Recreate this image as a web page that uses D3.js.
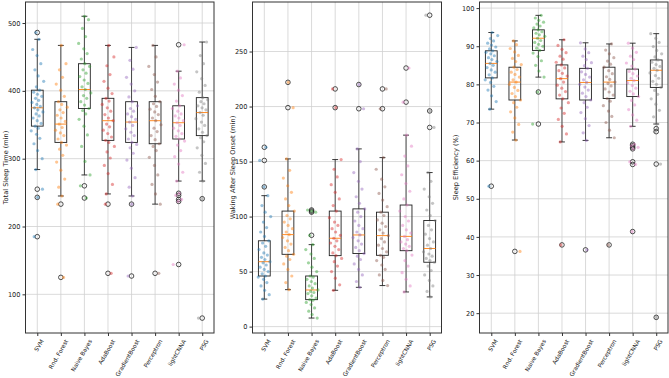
<!DOCTYPE html>
<html>
<head>
<meta charset="utf-8">
<script src="https://cdn.jsdelivr.net/npm/d3@7"></script>
<style>
body { margin: 0; background: #fff; }
text { font-family: "DejaVu Sans", sans-serif; }
</style>
</head>
<body>
<svg id="svg1" width="669" height="378"></svg>
<script>
var categories = ["SVM", "Rnd. Forest", "Naive Bayes", "AdaBoost", "GradientBoost", "Perceptron", "lightCNNA", "PSG"]
var colors = ["#1f77b4","#ff7f0e","#2ca02c","#d62728","#9467bd","#8c564b","#e377c2","#7f7f7f"]

// Total Sleep Time (min)
var tstLo  = [284, 245, 276, 248, 245, 233, 267, 267]
var tstQ1  = [348, 324, 374, 327, 324, 322, 329, 334]
var tstMed = [375, 351, 402, 356, 354, 356, 353, 368]
var tstQ3  = [401, 384, 440, 389, 384, 384, 378, 390]
var tstHi  = [476, 467, 510, 467, 464, 467, 429, 472]
var tstOut = [[486, 255, 243, 185], [233, 125], [260, 242], [233, 131], [233, 127], [131], [468, 249, 246, 240, 237, 144], [241, 65]]
var tstPoints = [
  [284, 300, 312, 322, 330, 336, 341, 345, 348, 352, 356, 360, 363, 366, 369, 372, 375, 377, 380, 383, 386, 389, 392, 395, 398, 401, 406, 414, 422, 431, 440, 452, 461, 476, 486, 255, 243, 185],
  [245, 258, 270, 283, 295, 305, 314, 320, 324, 329, 334, 338, 342, 346, 351, 355, 360, 364, 368, 372, 376, 380, 384, 392, 401, 410, 420, 431, 440, 467, 233, 125],
  [276, 296, 318, 335, 348, 358, 366, 371, 374, 379, 384, 389, 393, 397, 402, 406, 411, 416, 421, 426, 431, 436, 440, 447, 455, 462, 470, 480, 492, 505, 510, 260, 242],
  [248, 262, 278, 290, 301, 310, 318, 324, 327, 332, 337, 342, 347, 351, 356, 360, 365, 370, 375, 380, 385, 389, 396, 404, 414, 424, 437, 450, 467, 233, 131],
  [245, 258, 272, 286, 298, 308, 316, 321, 324, 329, 334, 339, 344, 349, 354, 358, 362, 366, 370, 374, 378, 384, 391, 400, 410, 420, 432, 445, 464, 233, 127],
  [233, 248, 262, 276, 290, 302, 312, 318, 322, 328, 334, 340, 345, 350, 356, 360, 365, 369, 373, 377, 381, 384, 392, 402, 413, 424, 436, 450, 467, 131],
  [267, 280, 292, 303, 312, 320, 326, 329, 333, 337, 341, 345, 349, 353, 356, 360, 363, 366, 370, 374, 378, 385, 393, 401, 410, 419, 429, 468, 249, 246, 240, 237, 144],
  [267, 280, 293, 305, 316, 325, 331, 334, 339, 344, 349, 354, 359, 364, 368, 372, 375, 378, 381, 384, 387, 390, 398, 408, 418, 428, 440, 452, 472, 241, 65]
]
var tstTicks = [100, 200, 300, 400, 500]

// Waking After Sleep Onset (min)
var wasoLo  = [25, 33.6, 7.8, 33, 35.7, 37.3, 31.5, 27]
var wasoQ1  = [46, 65.7, 24.5, 64.5, 66.4, 64.8, 69, 58.5]
var wasoMed = [59, 83.6, 33.3, 80.3, 83.3, 82.7, 82, 71]
var wasoQ3  = [78, 105, 46, 105, 107, 104, 110.5, 96.4]
var wasoHi  = [119, 152.4, 74.5, 151.8, 161.5, 153.6, 174, 140]
var wasoOut = [[163, 151, 127], [222, 199], [106, 105, 104, 83], [216, 199], [220, 198], [216, 198], [235, 204], [283, 196, 181]]
var wasoPoints = [
  [25, 29, 33, 37, 40, 43, 45, 46, 48, 50, 52, 54, 56, 58, 59, 61, 63, 65, 67, 70, 73, 76, 78, 82, 86, 90, 95, 100, 104, 110, 119, 127, 151, 163],
  [33.6, 40, 46, 52, 57, 61, 64, 65.7, 69, 72, 75, 78, 81, 83.6, 86, 89, 92, 95, 98, 101, 105, 110, 116, 122, 128, 135, 142, 152.4, 199, 222],
  [7.8, 11, 14, 17, 20, 22, 24, 24.5, 26, 28, 30, 31, 32, 33.3, 35, 37, 39, 41, 43, 45, 46, 50, 54, 58, 62, 66, 70, 74.5, 83, 104, 105, 106],
  [33, 38, 44, 50, 55, 59, 62, 64.5, 67, 70, 73, 76, 78, 80.3, 83, 86, 89, 92, 95, 99, 105, 110, 116, 122, 129, 136, 143, 151.8, 199, 216],
  [35.7, 41, 47, 52, 57, 61, 64, 66.4, 69, 72, 75, 78, 81, 83.3, 86, 89, 92, 96, 100, 104, 107, 112, 118, 125, 132, 140, 150, 161.5, 198, 220],
  [37.3, 42, 47, 52, 56, 60, 63, 64.8, 68, 71, 74, 77, 80, 82.7, 85, 88, 91, 94, 97, 101, 104, 109, 115, 121, 127, 134, 143, 153.6, 198, 216],
  [31.5, 37, 43, 49, 55, 60, 65, 69, 71, 73, 75, 77, 79, 82, 85, 88, 92, 96, 100, 105, 110.5, 116, 123, 130, 138, 146, 155, 164, 174, 204, 235],
  [27, 32, 37, 42, 47, 51, 55, 58.5, 60, 62, 64, 66, 68, 71, 74, 77, 80, 84, 88, 92, 96.4, 101, 106, 112, 118, 125, 132, 140, 181, 196, 283]
]
var wasoTicks = [0, 50, 100, 150, 200, 250]

// Sleep Efficiency (%)
var seLo  = [73.5, 65.4, 81.9, 64.9, 65.3, 66, 69.0, 69.6]
var seQ1  = [81.7, 75.9, 88.9, 76.2, 75.9, 76.3, 76.8, 79.2]
var seMed = [85.5, 80.6, 92.1, 81.5, 80.5, 80.6, 81.0, 83.7]
var seQ3  = [88.8, 84.5, 94.3, 85.1, 84.2, 84.5, 84.0, 86.4]
var seHi  = [93.6, 91.4, 98.1, 91.7, 90.9, 90.6, 90.8, 93.3]
var seOut = [[53.3], [36.2], [78.0, 69.6], [37.9], [36.6], [37.9], [64.3, 63.9, 63.5, 63.1, 59.7, 59.0, 41.4], [68.4, 67.6, 59.1, 18.9]]
var sePoints = [
  [73.5, 75.5, 77, 78.5, 79.5, 80.5, 81.2, 81.7, 82.5, 83.2, 83.8, 84.4, 85, 85.5, 86, 86.5, 87, 87.5, 88, 88.4, 88.8, 89.3, 89.8, 90.3, 90.8, 91.4, 92, 92.8, 93.6, 53.3],
  [65.4, 67.5, 69.5, 71.2, 72.8, 74, 75.2, 75.9, 76.8, 77.6, 78.4, 79.2, 80, 80.6, 81.2, 81.9, 82.6, 83.2, 83.9, 84.5, 85.2, 86, 86.8, 87.6, 88.5, 89.4, 90.4, 91.4, 36.2],
  [81.9, 83.5, 85, 86.2, 87.3, 88.2, 88.9, 89.5, 90, 90.5, 91, 91.5, 92.1, 92.6, 93, 93.4, 93.8, 94.3, 94.8, 95.3, 95.8, 96.3, 96.8, 97.4, 98.1, 78.0, 69.6],
  [64.9, 67, 69, 70.8, 72.4, 73.8, 75.2, 76.2, 77.2, 78.1, 79, 79.8, 80.6, 81.5, 82.2, 82.9, 83.6, 84.3, 85.1, 85.8, 86.6, 87.4, 88.3, 89.2, 90.2, 91.7, 37.9],
  [65.3, 67.3, 69.2, 71, 72.6, 74, 75.2, 75.9, 76.8, 77.7, 78.5, 79.3, 80, 80.5, 81.2, 81.9, 82.6, 83.3, 84.2, 84.9, 85.7, 86.5, 87.4, 88.3, 89.3, 90.9, 36.6],
  [66, 68, 70, 71.6, 73, 74.4, 75.6, 76.3, 77.2, 78, 78.8, 79.6, 80.2, 80.6, 81.3, 82, 82.8, 83.6, 84.5, 85.3, 86.1, 87, 88, 89, 90.6, 37.9],
  [69, 70.6, 72, 73.4, 74.6, 75.8, 76.8, 77.5, 78.2, 79, 79.7, 80.4, 81, 81.6, 82.2, 82.8, 83.4, 84, 84.8, 85.6, 86.5, 87.4, 88.4, 89.5, 90.8, 64.3, 63.9, 63.5, 63.1, 59.7, 59.0, 41.4],
  [69.6, 71.5, 73.2, 74.8, 76.2, 77.4, 78.4, 79.2, 80, 80.8, 81.6, 82.3, 83, 83.7, 84.2, 84.7, 85.2, 85.8, 86.4, 87.2, 88, 88.9, 89.9, 91, 92.1, 93.3, 68.4, 67.6, 59.1, 18.9]
]
var seTicks = [20, 30, 40, 50, 60, 70, 80, 90, 100]

var plotTop = 2, plotBottom = 333

var panels = [
  {left: 25.5, right: 214, domain: [43, 531], ticks: tstTicks, label: "Total Sleep Time (min)", labelX: 6,
   lo: tstLo, q1: tstQ1, med: tstMed, q3: tstQ3, hi: tstHi, out: tstOut, pts: tstPoints},
  {left: 252.5, right: 441.5, domain: [-5.8, 295], ticks: wasoTicks, label: "Waking After Sleep Onset (min)", labelX: 233,
   lo: wasoLo, q1: wasoQ1, med: wasoMed, q3: wasoQ3, hi: wasoHi, out: wasoOut, pts: wasoPoints},
  {left: 479.5, right: 668, domain: [14.8, 101.6], ticks: seTicks, label: "Sleep Efficiency (%)", labelX: 456,
   lo: seLo, q1: seQ1, med: seMed, q3: seQ3, hi: seHi, out: seOut, pts: sePoints}
]

var svg = d3.select("#svg1")

// deterministic spread around each box centre
function jitter(i){
    var t = ((i * 0.6180339 + 0.31) % 1) * 2 - 1
    return 6.5 * (0.55 * t + 0.45 * t * t * t)
}

panels.forEach(function(p){
    var x = d3.scaleLinear().domain([0.5, 8.5]).range([p.left, p.right])
    var y = d3.scaleLinear().domain(p.domain).range([plotBottom, plotTop])
    var g = svg.append("g")
    var bw = (x(1) - x(0)) * 0.25

    // grid
    g.append("g").selectAll("line").data(p.ticks).join("line")
        .attr("x1", p.left).attr("x2", p.right)
        .attr("y1", d => y(d)).attr("y2", d => y(d))
        .style("stroke", "#d0d0d0").style("stroke-width", 0.8)
    g.append("g").selectAll("line").data(d3.range(1, 9)).join("line")
        .attr("x1", d => x(d)).attr("x2", d => x(d))
        .attr("y1", plotTop).attr("y2", plotBottom)
        .style("stroke", "#d0d0d0").style("stroke-width", 0.8)

    // boxes
    categories.forEach(function(c, i){
        var cx = x(i + 1)
        var b = g.append("g")
        b.append("line").attr("x1", cx).attr("x2", cx).attr("y1", y(p.q3[i])).attr("y2", y(p.hi[i]))
            .style("stroke", "#222").style("stroke-width", 0.8)
        b.append("line").attr("x1", cx).attr("x2", cx).attr("y1", y(p.q1[i])).attr("y2", y(p.lo[i]))
            .style("stroke", "#222").style("stroke-width", 0.8)
        b.append("g").selectAll("line").data([p.lo[i], p.hi[i]]).join("line")
            .attr("x1", cx - bw / 2).attr("x2", cx + bw / 2)
            .attr("y1", d => y(d)).attr("y2", d => y(d))
            .style("stroke", "#222").style("stroke-width", 0.9)
        b.append("rect").attr("x", cx - bw).attr("width", bw * 2)
            .attr("y", y(p.q3[i])).attr("height", y(p.q1[i]) - y(p.q3[i]))
            .style("fill", "none").style("stroke", "#222").style("stroke-width", 0.9)
        b.append("line").attr("x1", cx - bw).attr("x2", cx + bw)
            .attr("y1", y(p.med[i])).attr("y2", y(p.med[i]))
            .style("stroke", "#ff7f0e").style("stroke-width", 0.9)
        b.append("g").selectAll("circle").data(p.out[i]).join("circle")
            .attr("cx", cx).attr("cy", d => y(d)).attr("r", 2.3)
            .style("fill", "none").style("stroke", "#222").style("stroke-width", 0.8)
    })

    // jittered points
    categories.forEach(function(c, i){
        g.append("g").selectAll("circle").data(p.pts[i]).join("circle")
            .attr("cx", (d, j) => x(i + 1) + jitter(j + i * 7))
            .attr("cy", d => y(d))
            .attr("r", 1.6)
            .style("fill", colors[i]).style("opacity", 0.45)
    })

    // frame
    g.append("rect").attr("x", p.left).attr("y", plotTop)
        .attr("width", p.right - p.left).attr("height", plotBottom - plotTop)
        .style("fill", "none").style("stroke", "#333").style("stroke-width", 1)

    // y axis
    var ya = g.append("g").attr("transform", "translate(" + p.left + ",0)")
        .call(d3.axisLeft(y).tickValues(p.ticks).tickSize(3).tickPadding(2))
    ya.select(".domain").remove()
    ya.selectAll("text").style("font-size", "6.6px").style("fill", "#222")
    ya.selectAll("line").style("stroke", "#333")

    // x axis
    var xa = g.append("g").attr("transform", "translate(0," + plotBottom + ")")
        .call(d3.axisBottom(x).tickValues(d3.range(1, 9)).tickSize(3).tickFormat(""))
    xa.select(".domain").remove()
    xa.selectAll("line").style("stroke", "#333")

    var labs = g.append("g").selectAll("text").data(categories).join("text")
        .attr("text-anchor", "end")
        .style("font-size", "5.8px").style("fill", "#222")
        .text(d => d)
    labs.attr("transform", function(d, i){
        var len = this.getComputedTextLength()
        return "translate(" + (x(i + 1) + 6 + 0.05 * len) + "," + (plotBottom + 8) + ") rotate(-60)"
    })

    g.append("text")
        .attr("transform", "translate(" + p.labelX + "," + ((plotTop + plotBottom) / 2) + ") rotate(-90)")
        .attr("text-anchor", "middle")
        .attr("dy", "0.35em")
        .style("font-size", "6.6px").style("fill", "#222")
        .text(p.label)
})
</script>
</body>
</html>
